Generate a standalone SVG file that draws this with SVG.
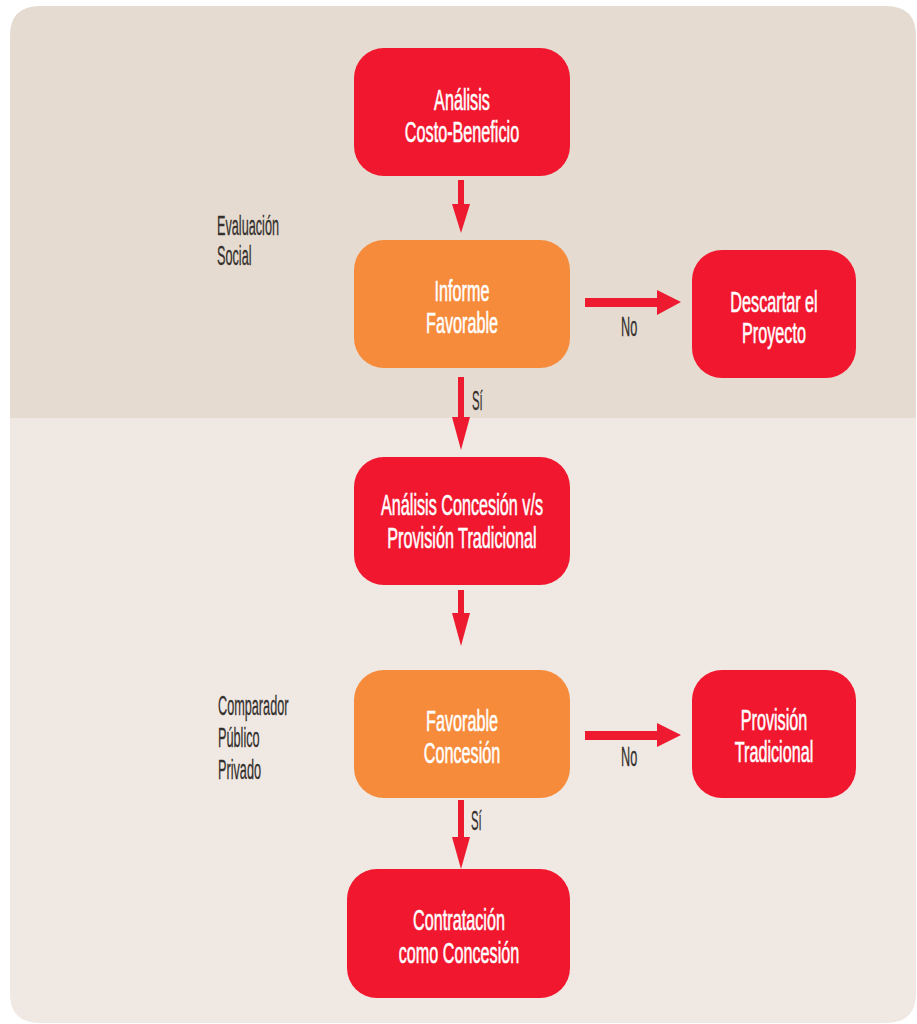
<svg xmlns="http://www.w3.org/2000/svg" width="917" height="1024" viewBox="0 0 917 1024">
  <style>
    .node-red { fill: #f1172f; }
    .node-orange { fill: #f68b3b; }
    .nt { font-family: "Liberation Sans", Arial, sans-serif; font-size: 30px; fill: #ffffff; stroke: #ffffff; stroke-width: 0.6px; text-anchor: middle; }
    .lbl { font-family: "Liberation Sans", Arial, sans-serif; font-size: 27px; fill: #34302e; stroke: #34302e; stroke-width: 0.3px; }
    .arrow { fill: #ee1a30; }
  </style>
  <g id="background">
    <path d="M10,418 V36 Q10,6 40,6 H886 Q916,6 916,36 V418 Z" fill="#e5dbd0"/>
    <path d="M10,418 H916 V993 Q916,1023 886,1023 H40 Q10,1023 10,993 Z" fill="#f0e8e2"/>
  </g>
  <g id="labels">
    <text class="lbl" transform="translate(217,235) scale(0.47,1)">Evaluación</text>
    <text class="lbl" transform="translate(217,265) scale(0.47,1)">Social</text>
    <text class="lbl" transform="translate(218,715) scale(0.47,1)">Comparador</text>
    <text class="lbl" transform="translate(218,747) scale(0.47,1)">Público</text>
    <text class="lbl" transform="translate(218,779) scale(0.47,1)">Privado</text>
  </g>
  <g id="connectors">
    <path class="arrow" d="M458,180 H464 V204 H470 L461,233 L452,204 H458 Z"/>
    <path class="arrow" d="M458,377 H464 V417 H470 L461,450 L452,417 H458 Z"/>
    <path class="arrow" d="M458,590 H464 V613 H470 L461,646 L452,613 H458 Z"/>
    <path class="arrow" d="M458,800 H464 V837 H470 L461,869 L452,837 H458 Z"/>
    <path class="arrow" d="M585,298 H657 V290 L681,302 L657,315 V307 H585 Z"/>
    <path class="arrow" d="M585,731 H657 V723 L681,735 L657,747 V740 H585 Z"/>
    <text class="lbl" transform="translate(621,336) scale(0.47,1)">No</text>
    <text class="lbl" transform="translate(621,766) scale(0.47,1)">No</text>
    <text class="lbl" transform="translate(472,410) scale(0.42,1)">Sí</text>
    <text class="lbl" transform="translate(471,830) scale(0.42,1)">Sí</text>
  </g>
  <g id="n1">
    <rect class="node-red" x="354" y="48" width="216" height="128" rx="30"/>
    <text class="nt" transform="translate(462,110) scale(0.54,1)">Análisis</text>
    <text class="nt" transform="translate(462,142) scale(0.54,1)">Costo-Beneficio</text>
  </g>
  <g id="n2">
    <rect class="node-orange" x="354" y="240" width="216" height="128" rx="30"/>
    <text class="nt" transform="translate(462,301) scale(0.54,1)">Informe</text>
    <text class="nt" transform="translate(462,333) scale(0.54,1)">Favorable</text>
  </g>
  <g id="n3">
    <rect class="node-red" x="692" y="250" width="164" height="128" rx="30"/>
    <text class="nt" transform="translate(774,312) scale(0.54,1)">Descartar el</text>
    <text class="nt" transform="translate(774,343) scale(0.54,1)">Proyecto</text>
  </g>
  <g id="n4">
    <rect class="node-red" x="354" y="457" width="216" height="128" rx="30"/>
    <text class="nt" transform="translate(462,515) scale(0.54,1)">Análisis Concesión v/s</text>
    <text class="nt" transform="translate(462,548) scale(0.54,1)">Provisión Tradicional</text>
  </g>
  <g id="n5">
    <rect class="node-orange" x="354" y="670" width="216" height="128" rx="30"/>
    <text class="nt" transform="translate(462,731) scale(0.54,1)">Favorable</text>
    <text class="nt" transform="translate(462,763) scale(0.54,1)">Concesión</text>
  </g>
  <g id="n6">
    <rect class="node-red" x="692" y="670" width="164" height="128" rx="30"/>
    <text class="nt" transform="translate(774,730) scale(0.54,1)">Provisión</text>
    <text class="nt" transform="translate(774,762) scale(0.54,1)">Tradicional</text>
  </g>
  <g id="n7">
    <rect class="node-red" x="347" y="869" width="223" height="129" rx="30"/>
    <text class="nt" transform="translate(459,930) scale(0.54,1)">Contratación</text>
    <text class="nt" transform="translate(459,963) scale(0.54,1)">como Concesión</text>
  </g>
</svg>
